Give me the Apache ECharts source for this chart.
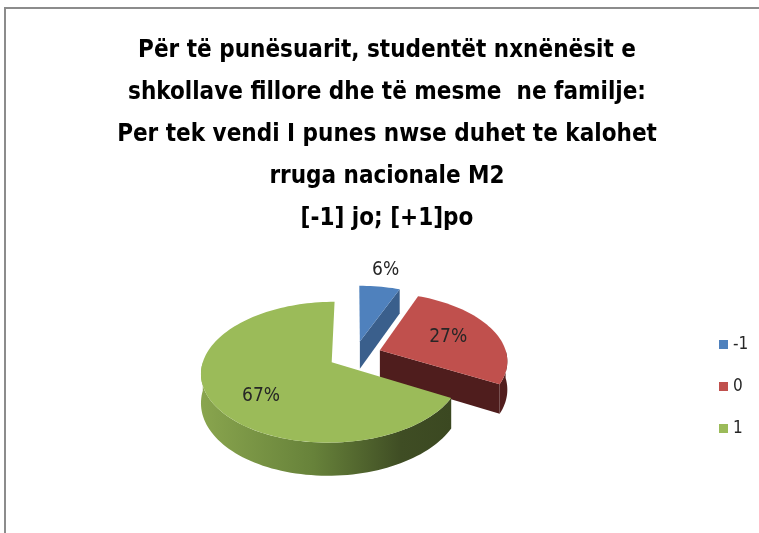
<!DOCTYPE html>
<html>
<head>
<meta charset="utf-8">
<title>Rruga nacionale M2</title>
<script src="https://cdn.jsdelivr.net/npm/echarts@6/dist/echarts.min.js"></script>
<style>
  html, body { margin: 0; padding: 0; background: #fff; }
  #chart { width: 759px; height: 533px; }
</style>
</head>
<body>
<div id="chart"></div>
<script>
// te dhenat e grafikut
var categories = ['-1', '0', '1']
var values = [6, 27, 67]
var titleLines = [
  'Për të punësuarit, studentët nxnënësit e',
  'shkollave fillore dhe të mesme  ne familje:',
  'Per tek vendi I punes nwse duhet te kalohet',
  'rruga nacionale M2',
  '[-1] jo; [+1]po'
]

var topColors = ['#4F81BD', '#C0504D', '#9BBB59']
var wallColors = ['#3A5F8C', '#4F1D1D', '#5E7A33']
var narrow = '"Liberation Sans Narrow", "DejaVu Sans Condensed", sans-serif'

// pamja 3D e pites: qendra, rrezet, trashesia, perspektiva, shkeputja
var pie = { cx: 355, cy: 355, rx: 127, ry: 67, depth: 28, persp: 0.139, explode: 0.21 }

var total = values.reduce(function (a, b) { return a + b }, 0)

// projektim me perspektive: X djathtas, Z prapa, h 0 = siper, 1 = poshte
function proj (X, Z, h) {
  var s = 1 / (1 + pie.persp * Z)
  return [pie.cx + pie.rx * X * s, pie.cy - pie.ry * Z * s + h * pie.depth * s]
}

function arc (ox, oz, a0, a1, h) {
  var pts = []
  var n = Math.max(2, Math.ceil((a1 - a0) / (Math.PI / 90)))
  for (var s = 0; s <= n; s++) {
    var a = a0 + (a1 - a0) * s / n
    pts.push(proj(ox + Math.sin(a), oz + Math.cos(a), h))
  }
  return pts
}

function sliceRenderer (i) {
  return function (params, api) {
    var v = api.value(0)
    var before = 0
    for (var j = 0; j < i; j++) before += values[j]
    var a0 = before / total * Math.PI * 2
    var a1 = (before + v) / total * Math.PI * 2
    var m = (a0 + a1) / 2
    var ox = pie.explode * Math.sin(m)
    var oz = pie.explode * Math.cos(m)
    var children = []

    // muret radiale
    function radial (a) {
      children.push({
        type: 'polygon',
        shape: {
          points: [proj(ox, oz, 0), arc(ox, oz, a, a, 0)[0], arc(ox, oz, a, a, 1)[0], proj(ox, oz, 1)]
        },
        style: { fill: wallColors[i] }
      })
    }
    if (Math.sin(a0) < -1e-6) radial(a0)
    if (Math.sin(a1) > 1e-6) radial(a1)

    // muri i jashtem (vetem pjesa e perparme)
    var s0 = Math.max(a0, Math.PI / 2)
    var s1 = Math.min(a1, Math.PI * 1.5)
    if (s1 > s0) {
      var up = arc(ox, oz, s0, s1, 0)
      var down = arc(ox, oz, s0, s1, 1).reverse()
      var fill = wallColors[i]
      if (i === 2) {
        fill = new echarts.graphic.LinearGradient(0, 0, 1, 0, [
          { offset: 0, color: '#89A54E' },
          { offset: 0.45, color: '#67823A' },
          { offset: 0.8, color: '#3F4D24' },
          { offset: 1, color: '#3B4821' }
        ])
      } else if (i === 1) {
        fill = '#521E1E'
      }
      children.push({
        type: 'polygon',
        shape: { points: up.concat(down) },
        style: { fill: fill }
      })
    }

    // faqja e siperme
    children.push({
      type: 'polygon',
      shape: { points: [proj(ox, oz, 0)].concat(arc(ox, oz, a0, a1, 0)) },
      style: { fill: topColors[i] }
    })

    // etiketa
    var pct = Math.round(v / total * 100)
    var f = pct < 10 ? 1.35 : 0.6
    var lp = proj(ox + f * Math.sin(m), oz + f * Math.cos(m), 0.75 * Math.max(0, -Math.cos(m)))
    children.push({
      type: 'text',
      style: {
        text: pct + '%',
        x: lp[0],
        y: lp[1],
        align: 'center',
        verticalAlign: 'middle',
        fill: '#262626',
        fontSize: 19,
        fontFamily: narrow
      }
    })

    return { type: 'group', children: children }
  }
}

var chart = echarts.init(document.getElementById('chart'))

var option = {
  backgroundColor: '#fff',
  animation: false,
  title: {
    text: titleLines.join('\n'),
    left: 387,
    top: 30,
    textAlign: 'center',
    padding: 0,
    textStyle: {
      fontSize: 24,
      fontWeight: 'bold',
      fontFamily: narrow,
      lineHeight: 42,
      color: '#000'
    }
  },
  legend: {
    orient: 'vertical',
    left: 714,
    top: 331,
    itemWidth: 9,
    itemHeight: 9,
    itemGap: 25,
    icon: 'rect',
    data: categories,
    textStyle: { fontSize: 17, fontFamily: narrow, color: '#262626' }
  },
  graphic: [{
    type: 'rect',
    silent: true,
    shape: { x: 5, y: 8, width: 800, height: 600 },
    style: { fill: 'none', stroke: '#8C8C8C', lineWidth: 2 }
  }],
  series: categories.map(function (name, i) {
    return {
      type: 'custom',
      name: name,
      coordinateSystem: 'none',
      silent: true,
      itemStyle: { color: topColors[i] },
      renderItem: sliceRenderer(i),
      data: [[values[i]]]
    }
  })
}

chart.setOption(option)
window.addEventListener('resize', function () {
  chart.resize()
})
</script>
</body>
</html>
